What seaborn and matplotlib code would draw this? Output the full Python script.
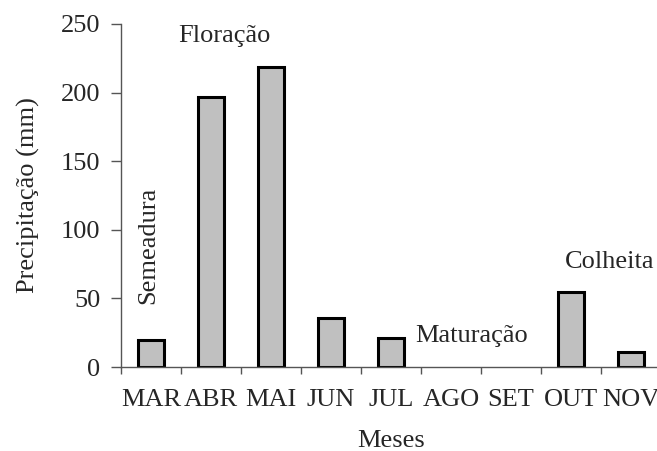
import matplotlib
matplotlib.use("Agg")
import matplotlib.pyplot as plt
import seaborn as sns
import pandas as pd

# dados
meses = ["MAR", "ABR", "MAI", "JUN", "JUL", "AGO", "SET", "OUT", "NOV"]
precipitacao = [20, 197, 219, 36, 21, 0, 0, 55, 11]

fases = ["Semeadura", "Floração", "Maturação", "Colheita"]
fases_x = [-0.05, 1.23, 5.35, 7.65]
fases_y = [89, 241, 22.6, 76.5]
fases_rot = [90, 0, 0, 0]

df = pd.DataFrame({"mes": meses, "prec": precipitacao})

sns.set_style("white")
plt.rcParams["font.family"] = ["Liberation Serif", "DejaVu Serif"]
plt.rcParams["font.size"] = 19

fig = plt.figure(figsize=(6.57, 4.51), dpi=100)
ax = fig.add_axes([121 / 657, 84 / 451, 540 / 657, 343 / 451])

sns.barplot(data=df, x="mes", y="prec", color="#c0c0c0", edgecolor="black",
            linewidth=2.2, width=0.43, saturation=1, ax=ax)

# barras com valor zero não aparecem no original
for p in ax.patches:
    if p.get_height() == 0:
        p.set_linewidth(0)

ax.set_xlim(-0.5, 8.5)
ax.set_ylim(0, 250)
ax.set_yticks([0, 50, 100, 150, 200, 250])
ax.set_xticks(range(len(meses)))
ax.set_xticklabels(meses)
ax.set_xticks([i - 0.5 for i in range(len(meses) + 1)], minor=True)
ax.tick_params(axis="x", which="major", length=0, pad=15.5)
ax.tick_params(axis="x", which="minor", length=5, color="#555555", width=1, direction="out", bottom=True)
ax.tick_params(axis="y", length=7, color="#555555", width=1, direction="out", left=True, pad=8)

sns.despine(ax=ax)
for s in ["left", "bottom"]:
    ax.spines[s].set_color("#555555")
    ax.spines[s].set_linewidth(1)

ax.set_xlabel("Meses", labelpad=14)
ax.set_ylabel("Precipitação (mm)", labelpad=15)

for txt, x, y, r in zip(fases, fases_x, fases_y, fases_rot):
    ax.text(x, y, txt, rotation=r, ha="center", va="center", fontsize=19)

fig.savefig("out.png", dpi=100)
